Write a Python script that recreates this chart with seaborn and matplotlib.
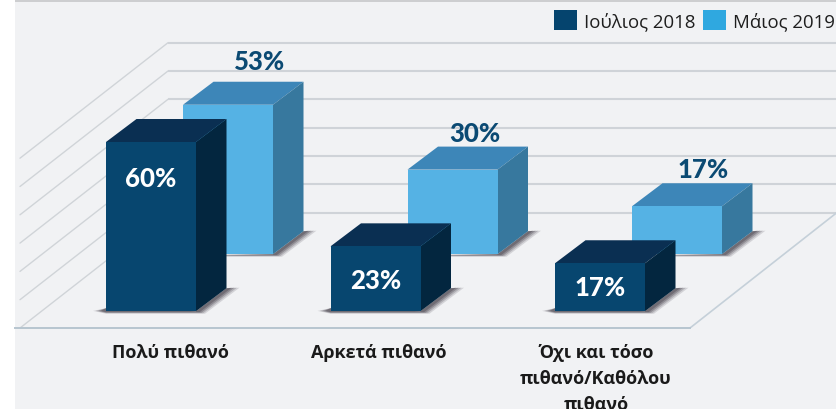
import matplotlib
matplotlib.use("Agg")
import matplotlib.pyplot as plt
from matplotlib.patches import Polygon, Rectangle, Patch
import seaborn as sns

categories = ["Πολύ πιθανό", "Αρκετά πιθανό", "Όχι και τόσο\nπιθανό/Καθόλου\nπιθανό"]
july_2018 = [60, 23, 17]
may_2019 = [53, 30, 17]
series_names = ["Ιούλιος 2018", "Μάιος 2019"]
grid_levels = [0, 10, 20, 30, 40, 50, 60]

W, H = 837, 410
sns.set_theme(style="white")
plt.rcParams["font.family"] = ["Open Sans", "Noto Sans", "DejaVu Sans"]

PANEL = "#F1F2F4"
fig = plt.figure(figsize=(W / 100, H / 100), dpi=100, facecolor="white")
fig.patches.append(Rectangle((15 / W, 0), 1 - 15 / W, 1, transform=fig.transFigure, fc=PANEL, ec="none", zorder=-5))
fig.patches.append(Rectangle((15 / W, 1 - 3 / H), 1 - 15 / W, 3 / H, transform=fig.transFigure, fc="#CDCED0", ec="none", zorder=-4))

# axes spans x 15..837 px, y 3..329 px
ax = fig.add_axes([15 / W, 1 - 329 / H, (W - 15) / W, (329 - 3) / H])
ax.patch.set_alpha(0)

PX_X = 224.5      # px per category
PX_Y = 2.82       # px per percent
X0, Y0 = 151, 312.2
fx = lambda px: (px - X0) / PX_X
dx = lambda px: px / PX_X
dy = lambda px: px / PX_Y

BAR_W = 90 / PX_X
LIGHT_LIFT = dy(57)
LIGHT_SHIFT = dx(77)
DEPTH_X, DEPTH_Y = dx(30.5), dy(23)

# light series first (it stands behind), lifted onto the back row of the floor
sns.barplot(x=categories, y=may_2019, color="#55B2E4", saturation=1, width=BAR_W,
            bottom=LIGHT_LIFT, errorbar=None, ax=ax, zorder=4)
light_bars = list(ax.patches)
sns.barplot(x=categories, y=july_2018, color="#07466F", saturation=1, width=BAR_W,
            errorbar=None, ax=ax, zorder=8)
dark_bars = list(ax.patches)[len(light_bars):]
for b in light_bars:
    b.set_x(b.get_x() + LIGHT_SHIFT)

ax.set_xlim(fx(15), fx(837))
ax.set_ylim(-(329 - Y0) / PX_Y, (Y0 - 3) / PX_Y)

# back wall and floor: wall lines sit at even steps of the value scale
rise = dy(98.7)
back_l = fx(168)
wall_step = 28.3 / PX_Y / 10
for lv in grid_levels:
    y = lv * wall_step + rise
    ax.plot([back_l, fx(837)], [y, y], color="#CFD3D8", lw=1.5, zorder=1, solid_capstyle="butt")
    ax.plot([back_l, back_l - dx(148)], [y, y - dy(115.5)], color="#D0D4D8", lw=1.0, zorder=1)
ax.plot([fx(690), fx(837)], [-(329 - Y0) / PX_Y, rise], color="#C5D0D9", lw=1.2, zorder=1)


def shadow(x0, x1, b, reach, back, z):
    for k, alpha in [(1.0, 0.16), (0.8, 0.22), (0.6, 0.3), (0.4, 0.35)]:
        pts = [(x1, b), (x1 + DEPTH_X, b + DEPTH_Y),
               (x1 + DEPTH_X + dx(reach * k), b + DEPTH_Y + dy(0.5)),
               (x1 + dx(9 * k), b - dy(2.5 * k)), (x0, b - dy(2.5 * k))]
        if back:
            pts += [(x0 - dx(13 * k), b + dy(0.3)), (x0, b + dy(3))]
        ax.add_patch(Polygon(pts, fc="#3A3540", alpha=alpha, ec="none", zorder=z))


def faces(bar, top_c, side_c, back, z):
    x0, w = bar.get_x(), bar.get_width()
    b, t = bar.get_y(), bar.get_y() + bar.get_height()
    x1 = x0 + w
    ax.add_patch(Polygon([(x0, t), (x1, t), (x1 + DEPTH_X, t + DEPTH_Y), (x0 + DEPTH_X, t + DEPTH_Y)],
                         fc=top_c, ec="none", zorder=z))
    ax.add_patch(Polygon([(x1, b), (x1 + DEPTH_X, b + DEPTH_Y), (x1 + DEPTH_X, t + DEPTH_Y), (x1, t)],
                         fc=side_c, ec="none", zorder=z))
    shadow(x0, x1, b, 13, back, z - 1)


for b in light_bars:
    b.set_edgecolor("none")
    faces(b, "#3D86B8", "#37789E", False, 3)

for b in dark_bars:
    b.set_edgecolor("none")
    faces(b, "#0A2F52", "#03263F", True, 7)

# value labels
NUM = dict(family=["Lato", "Open Sans"], fontweight="black", fontsize=18.5, ha="center", va="center")
dark_label_drop = [36, 34, 23.5]
for b, v, d in zip(dark_bars, july_2018, dark_label_drop):
    ax.annotate(f"{v}%", (b.get_x() + b.get_width() / 2, v), xytext=(0, -d * 0.72),
                textcoords="offset points", color="white", zorder=12, **NUM)
light_label_rise = [43.5, 37, 37]
light_label_dx = [1, -8, -4]
for b, v, d, s in zip(light_bars, may_2019, light_label_rise, light_label_dx):
    ax.annotate(f"{v}%", (b.get_x() + b.get_width() / 2 + DEPTH_X, b.get_y() + v), xytext=(s * 0.72, d * 0.72),
                textcoords="offset points", color="#0B4A73", zorder=12, **NUM)

# category axis
label_px = [170, 379, 596]
ax.set_xticks([fx(p) for p in label_px], categories)
ax.set_yticks([])
ax.tick_params(axis="x", length=0, pad=10.5, colors="#1A1A1A")
for t in ax.get_xticklabels():
    t.set_fontsize(13)
    t.set_fontweight("bold")
    t.set_linespacing(1.58)
ax.set_xlabel("")
ax.set_ylabel("")
for s in ["top", "left", "right"]:
    ax.spines[s].set_visible(False)
ax.spines["bottom"].set_color("#B7C5D0")
ax.spines["bottom"].set_linewidth(1.4)
ax.spines["bottom"].set_bounds(fx(15), fx(690))

# legend
FS = 13.4
PXFS = FS * 100 / 72
handles = [Patch(fc="#05446E", ec="none"), Patch(fc="#2FA8E0", ec="none")]
fig.legend(handles, series_names, loc="upper left", bbox_to_anchor=(554 / W, 1 - 11 / H), ncols=2,
           frameon=False, borderpad=0, borderaxespad=0,
           handlelength=23 / PXFS, handleheight=23 / PXFS, handletextpad=7 / PXFS, columnspacing=8 / PXFS,
           labelcolor="#1E1E1E", prop=dict(family=["Open Sans", "DejaVu Sans"], size=FS))

fig.savefig("out.png", dpi=100, facecolor="white")
